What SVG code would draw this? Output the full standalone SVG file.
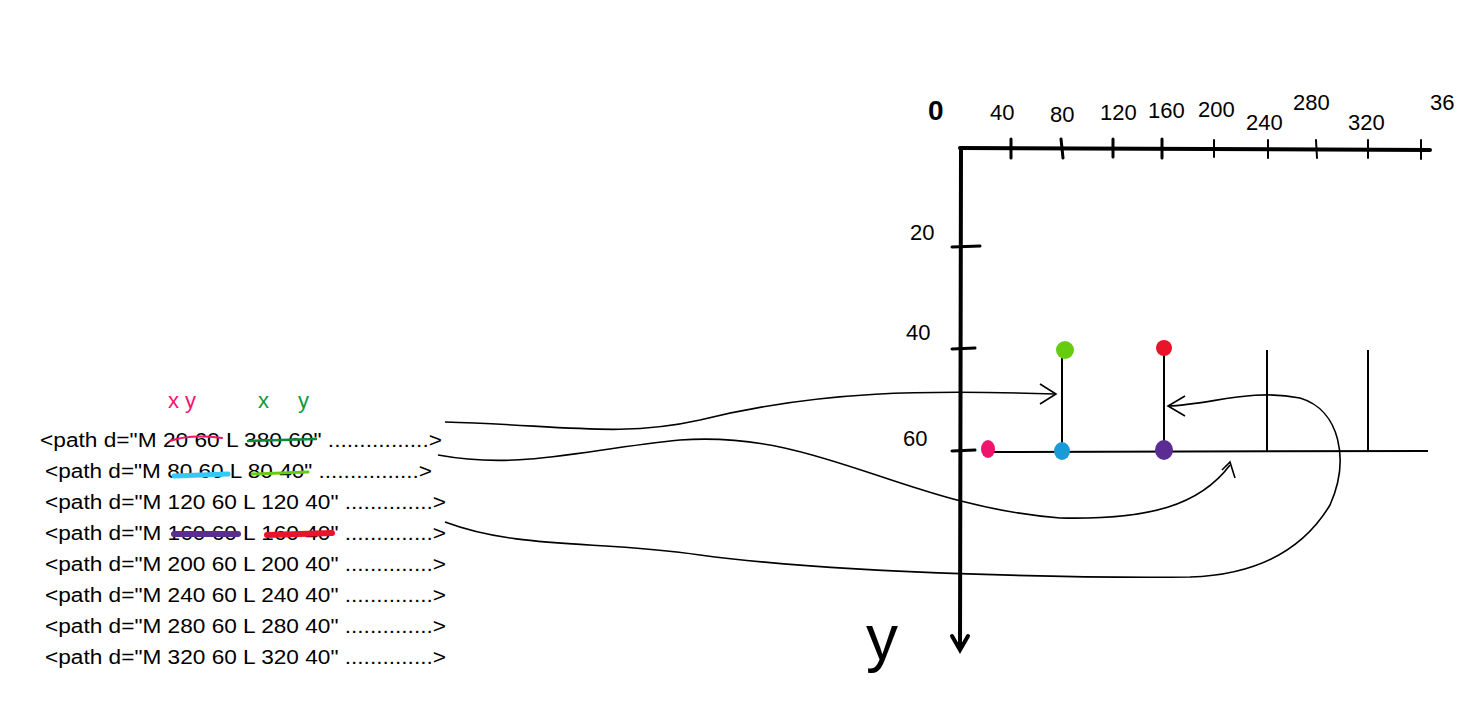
<svg xmlns="http://www.w3.org/2000/svg" width="1458" height="701" viewBox="0 0 1458 701">
<style>
.code{font-family:"Liberation Sans",Arial,sans-serif;font-size:20px;fill:#000}
.hand{font-family:"Liberation Sans",sans-serif;font-size:22px;fill:#000}
.ax{stroke:#000;stroke-width:4;fill:none;stroke-linecap:round}
.tk{stroke:#000;stroke-width:3;stroke-linecap:round}
.thin{stroke:#000;stroke-width:2;fill:none}
.conn{stroke:#000;stroke-width:1.6;fill:none}
.strike{stroke-linecap:round;fill:none}
</style>
<rect width="1458" height="701" fill="#fff"/>
<g id="code">
<text class="code" x="40" y="447" textLength="402" lengthAdjust="spacingAndGlyphs">&lt;path d="M 20 60 L 380 60" ................&gt;</text>
<text class="code" x="45" y="478" textLength="387" lengthAdjust="spacingAndGlyphs">&lt;path d="M 80 60 L 80 40" ................&gt;</text>
<text class="code" x="45" y="509" textLength="401" lengthAdjust="spacingAndGlyphs">&lt;path d="M 120 60 L 120 40" ..............&gt;</text>
<text class="code" x="45" y="540" textLength="401" lengthAdjust="spacingAndGlyphs">&lt;path d="M 160 60 L 160 40" ..............&gt;</text>
<text class="code" x="45" y="571" textLength="401" lengthAdjust="spacingAndGlyphs">&lt;path d="M 200 60 L 200 40" ..............&gt;</text>
<text class="code" x="45" y="602" textLength="401" lengthAdjust="spacingAndGlyphs">&lt;path d="M 240 60 L 240 40" ..............&gt;</text>
<text class="code" x="45" y="633" textLength="401" lengthAdjust="spacingAndGlyphs">&lt;path d="M 280 60 L 280 40" ..............&gt;</text>
<text class="code" x="45" y="664" textLength="401" lengthAdjust="spacingAndGlyphs">&lt;path d="M 320 60 L 320 40" ..............&gt;</text>
<text x="168" y="408" style="font-family:'Liberation Sans',sans-serif;font-size:22px;fill:#f0146e">x y</text>
<text x="258" y="408" style="font-family:'Liberation Sans',sans-serif;font-size:22px;fill:#0a9a3c">x</text>
<text x="298" y="408" style="font-family:'Liberation Sans',sans-serif;font-size:22px;fill:#0a9a3c">y</text>
<path class="strike" d="M170 441 Q190 434 222 438" stroke="#f0146e" stroke-width="2"/>
<path class="strike" d="M248 441 L316 439" stroke="#0a8a3a" stroke-width="2.5"/>
<path class="strike" d="M174 476 L228 474" stroke="#33c8f5" stroke-width="5"/>
<path class="strike" d="M252 474 L308 472" stroke="#66cc11" stroke-width="3"/>
<path class="strike" d="M174 534 L238 534" stroke="#5b2c94" stroke-width="6"/>
<path class="strike" d="M267 535 L332 533" stroke="#e8142a" stroke-width="6"/>
</g>
<g id="axes">
<path class="ax" d="M960 148 L1430 150"/>
<path class="ax" d="M961 148 L960 648"/>
<path class="ax" d="M952 636 L960 650 L968 636"/>
<g class="tk">
<line x1="1011" y1="139" x2="1011" y2="158"/><line x1="1061" y1="139" x2="1063" y2="158"/>
<line x1="1113" y1="139" x2="1113" y2="157"/><line x1="1162" y1="139" x2="1162" y2="158"/>
<line x1="1214" y1="140" x2="1214" y2="157" stroke-width="2"/><line x1="1268" y1="140" x2="1268" y2="158" stroke-width="2"/>
<line x1="1316" y1="140" x2="1317" y2="158" stroke-width="2"/><line x1="1368" y1="140" x2="1368" y2="158" stroke-width="2"/>
<line x1="1421" y1="140" x2="1421" y2="159" stroke-width="2"/>
<line x1="952" y1="247" x2="980" y2="246"/><line x1="952" y1="349" x2="975" y2="348"/><line x1="952" y1="451" x2="975" y2="450"/>
</g>
<text x="928" y="120" style="font-family:'Liberation Sans',sans-serif;font-size:28px;font-weight:bold">0</text>
<text class="hand" x="990" y="120">40</text><text class="hand" x="1050" y="122">80</text>
<text class="hand" x="1100" y="120">120</text><text class="hand" x="1148" y="118">160</text>
<text class="hand" x="1198" y="117">200</text><text class="hand" x="1246" y="130">240</text>
<text class="hand" x="1293" y="110">280</text><text class="hand" x="1348" y="130" font-size="18">320</text>
<text class="hand" x="1430" y="110">36</text>
<text class="hand" x="910" y="240" font-size="26">20</text>
<text class="hand" x="906" y="340" font-size="28">40</text>
<text class="hand" x="903" y="446" font-size="28">60</text>
<text x="866" y="660" style="font-family:'Liberation Sans',sans-serif;font-size:64px">y</text>
</g>
<g id="plot">
<line class="thin" x1="988" y1="452" x2="1428" y2="451"/>
<line class="thin" x1="1062" y1="350" x2="1062" y2="452"/>
<line class="thin" x1="1164" y1="350" x2="1164" y2="452"/>
<line class="thin" x1="1267" y1="350" x2="1267" y2="452"/>
<line class="thin" x1="1368" y1="350" x2="1368" y2="451"/>
<ellipse cx="988" cy="449" rx="7" ry="9" fill="#f0146e"/>
<ellipse cx="1062" cy="451" rx="8" ry="9" fill="#1a9ad6"/>
<ellipse cx="1065" cy="350" rx="9" ry="9" fill="#66cc11"/>
<ellipse cx="1164" cy="450" rx="9" ry="10" fill="#5b2c94"/>
<ellipse cx="1164" cy="348" rx="8" ry="8" fill="#e8142a"/>
</g>
<g id="connectors">
<path class="conn" d="M445 422 C560 425 620 438 700 420 C820 390 930 390 1055 394"/>
<path class="conn" d="M1040 384 L1056 394 L1040 404"/>
<path class="conn" d="M438 455 C520 470 580 450 680 440 C820 430 900 505 1060 518 C1150 520 1200 505 1230 465"/>
<path class="conn" d="M1222 470 L1230 462 L1235 478"/>
<path class="conn" d="M445 522 C520 550 600 540 700 555 C850 575 1100 578 1190 577 C1250 575 1300 555 1330 505 C1350 460 1340 410 1300 398 C1250 388 1210 405 1168 406"/>
<path class="conn" d="M1185 396 L1168 406 L1185 416"/>
</g>
</svg>
